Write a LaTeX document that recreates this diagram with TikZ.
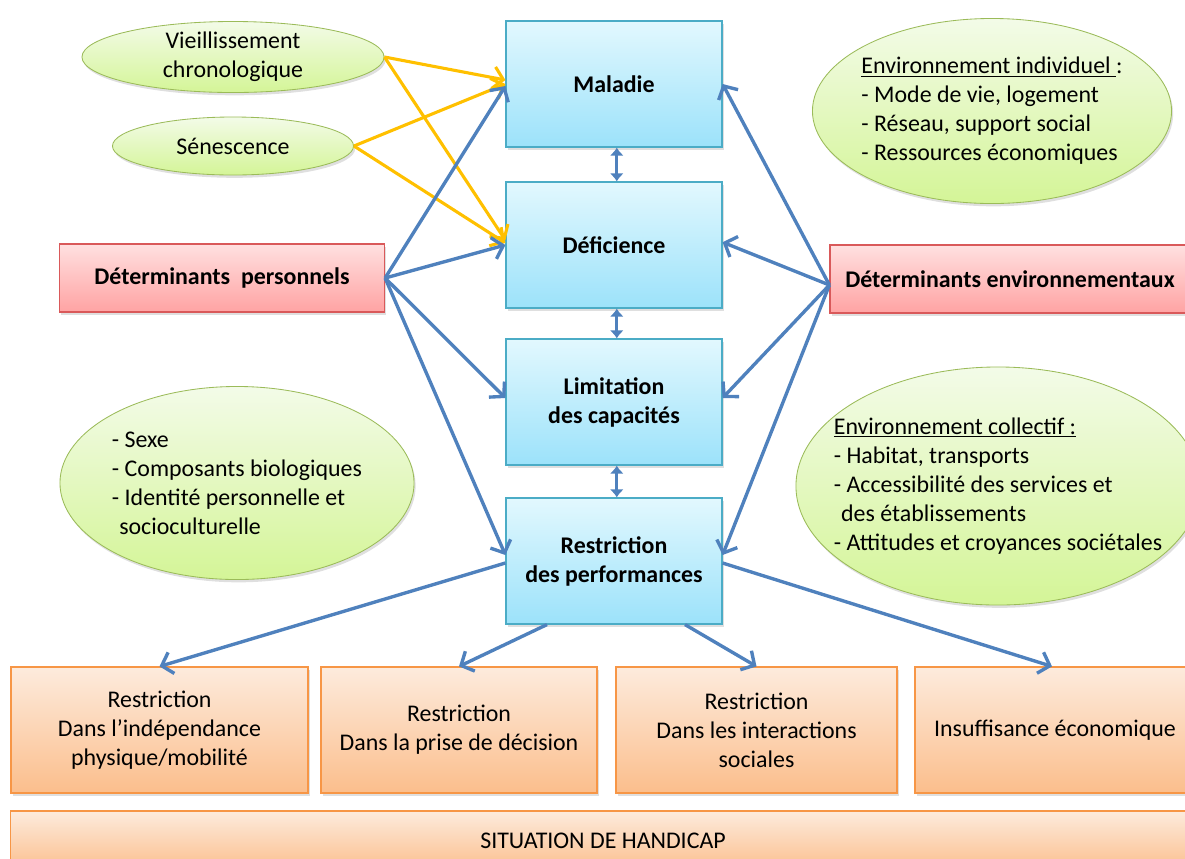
\documentclass[tikz,border=0pt]{standalone}
\usepackage{fontspec}
\setmainfont{Carlito}
\usetikzlibrary{arrows.meta,shapes.geometric,shadows}

\definecolor{stageline}{HTML}{4BACC6}
\definecolor{stagetop}{HTML}{E2F8FE}
\definecolor{stagebot}{HTML}{9CE2FA}
\definecolor{detline}{HTML}{D9595A}
\definecolor{dettop}{HTML}{FFE0E0}
\definecolor{detbot}{HTML}{FFA3A3}
\definecolor{factline}{HTML}{9BBB59}
\definecolor{facttop}{HTML}{F3FBE8}
\definecolor{factbot}{HTML}{D4F597}
\definecolor{outline}{HTML}{F79646}
\definecolor{outtop}{HTML}{FDEBDD}
\definecolor{outbot}{HTML}{FBBE8C}
\definecolor{linkblue}{HTML}{4F81BD}
\definecolor{ageyellow}{HTML}{FFC000}

\newcommand{\diagfont}{\fontsize{17}{20.6}\selectfont}

\tikzset{
    softshadow/.style={drop shadow={opacity=0.25,shadow xshift=0.4mm,shadow yshift=-0.7mm}},
    stagebox/.style={rectangle, draw=stageline, line width=0.8pt, top color=stagetop,
        bottom color=stagebot, minimum width=5.4cm, minimum height=3.15cm,
        align=center, font=\diagfont\bfseries, softshadow},
    detbox/.style={rectangle, draw=detline, line width=0.8pt, top color=dettop,
        bottom color=detbot, minimum height=1.7cm, align=center, font=\diagfont\bfseries, softshadow},
    factor/.style={ellipse, draw=factline, line width=0.6pt, top color=facttop,
        bottom color=factbot, inner sep=0pt, softshadow},
    listtext/.style={label={[align=left]center:#1}},
    outbox/.style={rectangle, draw=outline, line width=0.8pt, top color=outtop,
        bottom color=outbot, minimum height=3.15cm, align=center, softshadow},
    link/.style={draw=linkblue, line width=2.4pt, -{Straight Barb[length=2.5mm,width=5.5mm]}},
    agelink/.style={draw=ageyellow, line width=2.2pt, -{Straight Barb[length=2.5mm,width=5.5mm]}},
    twoway/.style={draw=linkblue, line width=2.2pt,
        {Latex[length=2mm,width=3.5mm]}-{Latex[length=2mm,width=3.5mm]}}
}

\begin{document}
\begin{tikzpicture}[x=0.025cm, y=-0.025cm, font=\diagfont]
    \useasboundingbox (0,0) rectangle (1185,858);
    \clip (0,0) rectangle (1185,858);

    % Stages of the process
    \node[stagebox] (maladie) at (614,84) {Maladie};
    \node[stagebox] (defic) at (614,245) {Déficience};
    \node[stagebox] (limit) at (614,402) {Limitation\\des capacités};
    \node[stagebox] (restr) at (614,561) {Restriction\\des performances};

    % Determinants
    \node[detbox, minimum width=8.125cm] (pers) at (222,278) {Déterminants \ personnels};
    \node[detbox, minimum width=9cm] (env) at (1010,279) {Déterminants environnementaux};

    % Factors
    \node[factor, minimum width=7.55cm, minimum height=1.775cm, align=center] (vieil) at (233,57)
        {Vieillissement\\chronologique};
    \node[factor, minimum width=6.025cm, minimum height=1.45cm] (senes) at (233,146) {Sénescence};
    \node[factor, minimum width=8.975cm, minimum height=4.625cm,
        listtext={\underline{Environnement individuel }:\\- Mode de vie, logement\\- Réseau, support social\\- Ressources économiques}]
        (envind) at (992,111) {};
    \node[factor, minimum width=10.1cm, minimum height=5.95cm,
        listtext={\underline{Environnement collectif :}\\- Habitat, transports\\- Accessibilité des services et\\\phantom{-}des établissements\\- Attitudes et croyances sociétales}]
        (envcol) at (998,486) {};
    \node[factor, minimum width=8.85cm, minimum height=4.825cm,
        listtext={- Sexe\\- Composants biologiques\\- Identité personnelle et\\\phantom{-}socioculturelle}]
        (persfact) at (237,483) {};

    % Consequences
    \node[outbox, minimum width=7.425cm] (out1) at (159.5,730) {Restriction\\Dans l’indépendance\\physique/mobilité};
    \node[outbox, minimum width=6.9cm] (out2) at (459,730) {Restriction\\Dans la prise de décision};
    \node[outbox, minimum width=7.025cm] (out3) at (756.5,730) {Restriction\\Dans les interactions\\sociales};
    \node[outbox, minimum width=7cm] (out4) at (1055,730) {Insuffisance économique};
    \node[outbox, minimum width=29.6cm, minimum height=1.5cm] (situ) at (603,841) {SITUATION DE HANDICAP};

    % Ageing arrows
    \draw[agelink] (vieil.east) -- ([yshift=0.1cm]maladie.west);
    \draw[agelink] (vieil.east) -- ([yshift=0.12cm]defic.west);
    \draw[agelink] (senes.east) -- (maladie.west);
    \draw[agelink] (senes.east) -- ([yshift=0.05cm]defic.west);

    % Personal determinants
    \draw[link] (pers.east) -- ([yshift=-0.05cm]maladie.west);
    \draw[link] (pers.east) -- (defic.west);
    \draw[link] (pers.east) -- ([yshift=0.1cm]limit.west);
    \draw[link] (pers.east) -- ([yshift=0.15cm]restr.west);

    % Environmental determinants
    \draw[link] ([yshift=-0.15cm]env.west) -- (maladie.east);
    \draw[link] ([yshift=-0.15cm]env.west) -- ([yshift=0.07cm]defic.east);
    \draw[link] ([yshift=-0.15cm]env.west) -- ([yshift=0.1cm]limit.east);
    \draw[link] ([yshift=-0.15cm]env.west) -- ([yshift=0.15cm]restr.east);

    % Links between the stages
    \draw[twoway] ([xshift=0.07cm]maladie.south) -- ([xshift=0.07cm]defic.north);
    \draw[twoway] ([xshift=0.07cm]defic.south) -- ([xshift=0.07cm]limit.north);
    \draw[twoway] ([xshift=0.07cm]limit.south) -- ([xshift=0.07cm]restr.north);

    % Towards the consequences
    \draw[link] ([yshift=-0.05cm]restr.west) -- (out1.north);
    \draw[link] ([xshift=-1.675cm]restr.south) -- (out2.north);
    \draw[link] ([xshift=1.775cm]restr.south) -- (out3.north);
    \draw[link] ([yshift=-0.05cm]restr.east) -- ([xshift=-0.075cm]out4.north);
\end{tikzpicture}
\end{document}
